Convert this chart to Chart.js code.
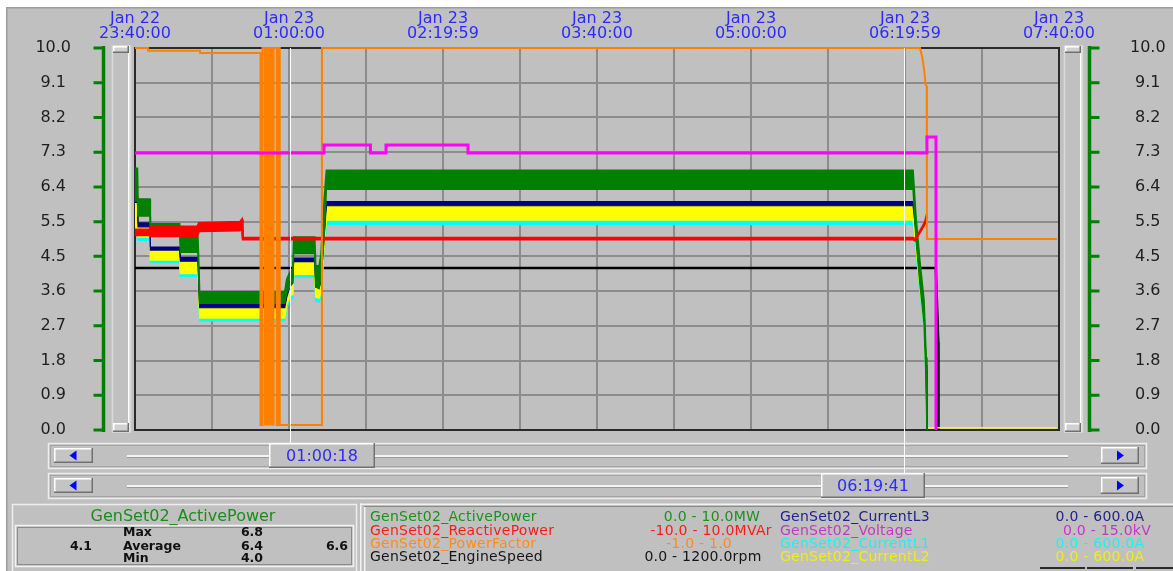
<!DOCTYPE html>
<html>
<head>
<meta charset="utf-8">
<script src="https://cdn.jsdelivr.net/npm/chart.js@4.4.1/dist/chart.umd.min.js"></script>
<style>
  html, body { margin: 0; padding: 0; background: #c0c0c0; }
  #wrap { position: relative; width: 1173px; height: 571px; overflow: hidden; font-family: "DejaVu Sans", sans-serif; }
  #c { position: absolute; left: 0; top: 0; }
  .t { position: absolute; white-space: nowrap; line-height: 1; }
</style>
</head>
<body>
<div id="wrap"><canvas id="c" width="1173" height="571"></canvas></div>
<script>
// ---- time axis (minutes after Jan 22 23:40:00) ----
const timeTickLabels = [
  ['Jan 22', '23:40:00'], ['Jan 23', '01:00:00'], ['Jan 23', '02:19:59'], ['Jan 23', '03:40:00'],
  ['Jan 23', '05:00:00'], ['Jan 23', '06:19:59'], ['Jan 23', '07:40:00']
];
const yTickLabels = ['0.0', '0.9', '1.8', '2.7', '3.6', '4.5', '5.5', '6.4', '7.3', '8.2', '9.1', '10.0'];
const cursorTimes = [80.3, 399.683];
const cursorLabels = ['01:00:18', '06:19:41'];

// ---- generator load & currents (envelope of the sampled trace, scaled 0-10) ----
const stepTime      = [0, 1.3, 1.6, 7.8, 8.0, 23.2, 23.6, 32.7, 33.6, 77.8, 78.8, 80.6, 82.0, 82.4, 93.4, 93.9, 95.6, 96.6, 98.2, 99.4, 404.2, 405.7, 407.8, 409.9, 411.0, 411.4];
const activePowerHigh = [6.85, 6.85, 6.05, 6.05, 5.4, 5.4, 5.05, 5.05, 3.62, 3.62, 3.95, 4.15, 4.2, 5.05, 5.05, 4.3, 4.3, 4.6, 6.0, 6.8, 6.8, 5.6, 4.4, 3.4, 1.9, 0];
const activePowerLow  = [6.0, 6.0, 5.6, 5.6, 5.12, 5.12, 4.65, 4.65, 3.32, 3.32, 3.6, 3.75, 3.9, 4.62, 4.62, 3.75, 3.7, 4.0, 5.0, 6.3, 6.3, 5.0, 3.8, 2.8, 1.3, 0];
const currentL3High = [6.08, 6.08, 5.42, 5.42, 4.79, 4.79, 4.52, 4.52, 3.3, 3.3, 3.58, 3.88, 3.98, 4.5, 4.5, 3.88, 3.84, 3.98, 5.15, 5.98, 5.98, 5.3, 4.1, 3.2, 1.7, 0];
const currentL3Low  = [5.96, 5.96, 5.32, 5.32, 4.71, 4.71, 4.42, 4.42, 3.2, 3.2, 3.47, 3.77, 3.84, 4.41, 4.41, 3.74, 3.72, 3.87, 5.03, 5.87, 5.87, 5.18, 3.98, 3.08, 1.58, 0];
const currentL2High = [6.0, 6.0, 5.37, 5.37, 4.76, 4.76, 4.4, 4.4, 3.22, 3.22, 3.5, 3.87, 3.95, 4.4, 4.4, 3.8, 3.8, 3.95, 5.1, 5.88, 5.88, 5.2, 4.0, 3.1, 1.6, 0];
const currentL2Low  = [5.25, 5.25, 5.05, 5.05, 4.45, 4.45, 4.1, 4.1, 2.93, 2.93, 3.3, 3.5, 3.55, 4.08, 4.08, 3.48, 3.45, 3.6, 4.8, 5.5, 5.5, 4.8, 3.7, 2.8, 1.4, 0];
const currentL1High = [5.35, 5.35, 5.1, 5.1, 4.5, 4.5, 4.15, 4.15, 3.0, 3.0, 3.35, 3.55, 3.6, 4.15, 4.15, 3.55, 3.5, 3.65, 4.85, 5.55, 5.55, 4.85, 3.75, 2.85, 1.45, 0];
const currentL1Low  = [5.15, 5.15, 4.97, 4.97, 4.38, 4.38, 4.02, 4.02, 2.86, 2.86, 3.2, 3.4, 3.45, 4.0, 4.0, 3.38, 3.35, 3.5, 4.7, 5.38, 5.38, 4.7, 3.6, 2.7, 1.3, 0];
const idleTime = [411.4, 479];
const idleCurrentL2 = [0.06, 0.06];

// ---- reactive power ----
const reactiveTime = [0, 7.6, 8.0, 32.4, 33.2, 54.5, 55.6, 56.0, 404.2, 405.2, 406.8, 408.8, 410.4, 411.4];
const reactiveHigh = [5.25, 5.25, 5.33, 5.33, 5.42, 5.45, 5.52, 5.03, 5.03, 5.0, 5.13, 5.3, 5.45, 5.66];
const reactiveLow  = [5.1, 5.1, 5.07, 5.07, 5.2, 5.22, 5.25, 4.99, 4.99, 4.96, 5.09, 5.26, 5.4, 5.6];

// ---- power factor ----
const powerFactorTime  = [0, 6.8, 6.8, 33.8, 33.8, 65.2, 65.2, 66.2, 66.2, 73.6, 73.6, 74.6, 74.6, 75.2, 75.2, 97.1, 97.1, 407.8, 409.0, 409.9, 410.7, 411.3, 411.4, 479];
const powerFactorValue = [10, 10, 9.93, 9.93, 9.87, 9.87, 0.13, 0.13, 10, 10, 0.13, 0.13, 10, 10, 0.13, 0.13, 10, 10, 9.75, 9.45, 9.05, 9.0, 5.0, 5.0];
const powerFactorBurstTime = [66.8, 72.6];
const powerFactorBurstHigh = [10, 10];
const powerFactorBurstLow  = [0.13, 0.13];

// ---- voltage & engine speed ----
const voltageTime  = [0, 98.2, 98.2, 122.3, 122.3, 130.4, 130.4, 173.0, 173.0, 411.4, 411.4, 416.1, 416.1];
const voltageValue = [7.25, 7.25, 7.46, 7.46, 7.25, 7.25, 7.46, 7.46, 7.25, 7.25, 7.67, 7.67, 0];
const engineSpeedTime  = [0, 416.0, 417.3, 417.4];
const engineSpeedValue = [4.24, 4.24, 2.3, 0];

const COLORS = {
  active: '#008000', reactive: '#ff0000', pf: '#ff8000', speed: '#000000',
  l3: '#000080', voltage: '#ff00ff', l1: '#00ffff', l2: '#ffff00'
};

const pts = (t, v) => t.map((x, i) => ({ x, y: v[i] }));

function line(label, t, v, color, width, order) {
  return { label, data: pts(t, v), borderColor: color, backgroundColor: color, borderWidth: width,
           fill: false, order, pointRadius: 0, tension: 0, clip: 4 };
}
function band(label, t, hi, lo, color, width, order) {
  return [
    { label, data: pts(t, hi), borderColor: color, backgroundColor: color, borderWidth: width,
      fill: '+1', order, pointRadius: 0, tension: 0, clip: 4 },
    { label: label + ' (low)', data: pts(t, lo), borderColor: color, backgroundColor: color, borderWidth: width,
      fill: false, order, pointRadius: 0, tension: 0, clip: 4 }
  ];
}

const datasets = [
  line('GenSet02_Voltage', voltageTime, voltageValue, COLORS.voltage, 3, 0),
  line('GenSet02_PowerFactor', powerFactorTime, powerFactorValue, COLORS.pf, 2, 1),
  ...band('GenSet02_PowerFactor burst', powerFactorBurstTime, powerFactorBurstHigh, powerFactorBurstLow, COLORS.pf, 1, 1),
  ...band('GenSet02_ReactivePower', reactiveTime, reactiveHigh, reactiveLow, COLORS.reactive, 2, 2),
  ...band('GenSet02_ActivePower', stepTime, activePowerHigh, activePowerLow, COLORS.active, 1.5, 3),
  ...band('GenSet02_CurrentL3', stepTime, currentL3High, currentL3Low, COLORS.l3, 1.2, 4),
  ...band('GenSet02_CurrentL2', stepTime, currentL2High, currentL2Low, COLORS.l2, 1.5, 5),
  line('GenSet02_CurrentL2 idle', idleTime, idleCurrentL2, COLORS.l2, 1.5, 5),
  ...band('GenSet02_CurrentL1', stepTime, currentL1High, currentL1Low, COLORS.l1, 1.5, 6),
  line('GenSet02_EngineSpeed', engineSpeedTime, engineSpeedValue, COLORS.speed, 2.5, 7)
];

// ---- widget chrome painted around the plot ----
function raised(ctx, x, y, w, h, fill) {
  ctx.fillStyle = fill || '#c4c4c4';
  ctx.fillRect(x, y, w, h);
  ctx.fillStyle = '#ffffff';
  ctx.fillRect(x, y, w, 1.5); ctx.fillRect(x, y, 1.5, h);
  ctx.fillStyle = '#707070';
  ctx.fillRect(x, y + h - 1.5, w, 1.5); ctx.fillRect(x + w - 1.5, y, 1.5, h);
}
function arrowButton(ctx, x, y, w, h, dir) {
  raised(ctx, x, y, w, h);
  const cx = x + w / 2, cy = y + h / 2;
  ctx.fillStyle = '#0000ff';
  ctx.beginPath();
  if (dir < 0) { ctx.moveTo(cx - 4, cy); ctx.lineTo(cx + 3, cy - 5); ctx.lineTo(cx + 3, cy + 5); }
  else { ctx.moveTo(cx + 4, cy); ctx.lineTo(cx - 3, cy - 5); ctx.lineTo(cx - 3, cy + 5); }
  ctx.closePath(); ctx.fill();
}
function hScroller(ctx, y, thumbX, thumbW) {
  ctx.strokeStyle = '#ececec'; ctx.lineWidth = 1.5;
  ctx.strokeRect(48.5, y + 0.5, 1098, 25);
  ctx.strokeStyle = '#a4a4a4'; ctx.lineWidth = 1;
  ctx.strokeRect(50.5, y + 2.5, 1094, 21);
  ctx.fillStyle = '#f4f4f4'; ctx.fillRect(127, y + 12, 941, 2);
  ctx.fillStyle = '#9a9a9a'; ctx.fillRect(127, y + 14, 941, 1);
  arrowButton(ctx, 54, y + 5, 39, 15, -1);
  arrowButton(ctx, 1101, y + 4, 38, 17, 1);
  raised(ctx, thumbX, y, thumbW, 25, '#c0c0c0');
}
function vScroller(ctx, x, top, bottom) {
  ctx.strokeStyle = '#dadada'; ctx.lineWidth = 1.5;
  ctx.strokeRect(x + 0.5, top, 18, bottom - top);
  ctx.fillStyle = '#ffffff'; ctx.fillRect(x + 16, top, 1.5, bottom - top);
  raised(ctx, x + 1, top, 16, 7, '#d0d0d0');
  raised(ctx, x + 1, bottom - 9, 16, 9, '#d0d0d0');
}
function greenAxis(ctx, scale, x, dir) {
  ctx.strokeStyle = '#008000';
  ctx.lineWidth = 3.5;
  ctx.beginPath();
  ctx.moveTo(x, scale.top - 2); ctx.lineTo(x, scale.bottom + 2);
  ctx.stroke();
  ctx.lineWidth = 3;
  ctx.beginPath();
  for (const t of scale.ticks) {
    const py = scale.getPixelForValue(t.value);
    ctx.moveTo(x, py); ctx.lineTo(x + dir * 10, py);
  }
  ctx.stroke();
}

const chrome = {
  id: 'chrome',
  beforeDraw(chart) {
    const ctx = chart.ctx, a = chart.chartArea;
    ctx.save();
    ctx.fillStyle = '#c0c0c0'; ctx.fillRect(0, 0, chart.width, chart.height);
    ctx.fillStyle = '#ffffff'; ctx.fillRect(0, 0, chart.width, 7); ctx.fillRect(0, 0, 6, chart.height);
    ctx.fillStyle = '#9c9c9c'; ctx.fillRect(6, 7, chart.width, 1.5); ctx.fillRect(6, 7, 1.5, chart.height);

    vScroller(ctx, 112, a.top - 2, a.bottom + 2);
    vScroller(ctx, 1064, a.top - 2, a.bottom + 2);
    greenAxis(ctx, chart.scales.y, 103.5, -1);
    greenAxis(ctx, chart.scales.y2, 1089.5, 1);

    hScroller(ctx, 443, 269, 106);
    hScroller(ctx, 473, 821, 104);

    // statistics panel
    ctx.strokeStyle = '#eeeeee'; ctx.lineWidth = 1.5;
    ctx.strokeRect(12.5, 504.5, 344, 70);
    ctx.strokeStyle = '#f2f2f2'; ctx.strokeRect(15.5, 525.5, 338, 41);
    ctx.strokeStyle = '#8a8a8a'; ctx.lineWidth = 1; ctx.strokeRect(17.5, 527.5, 334, 37);
    // legend panel
    ctx.fillStyle = '#f2f2f2';
    ctx.fillRect(360, 503.5, 813, 1.5); ctx.fillRect(360, 503.5, 1.5, 70); ctx.fillRect(364, 507, 1.5, 70);
    ctx.fillStyle = '#8a8a8a'; ctx.fillRect(364, 506, 809, 1);
    ctx.fillStyle = '#2a2a2a';
    ctx.fillRect(1040, 567, 45, 2); ctx.fillRect(1087, 567, 46, 2); ctx.fillRect(1136, 567, 37, 2);
    ctx.restore();
  },
  beforeDatasetsDraw(chart) {
    const ctx = chart.ctx, a = chart.chartArea;
    ctx.save();
    ctx.strokeStyle = '#2a2a2a'; ctx.lineWidth = 2;
    ctx.strokeRect(a.left, a.top, a.right - a.left, a.bottom - a.top);
    ctx.restore();
  },
  afterDraw(chart) {
    const ctx = chart.ctx, a = chart.chartArea, xs = chart.scales.x;
    const ends = [443, 473];
    ctx.save();
    ctx.strokeStyle = '#ffffff'; ctx.lineWidth = 1;
    cursorTimes.forEach((t, i) => {
      const px = Math.round(xs.getPixelForValue(t)) + 0.5;
      ctx.beginPath(); ctx.moveTo(px, a.top); ctx.lineTo(px, ends[i]); ctx.stroke();
    });
    ctx.restore();
  }
};

const tickFont = { family: 'DejaVu Sans', size: 16 };
const yLabelTicks = (s) => { s.ticks = yTickLabels.map((_, i) => ({ value: i * 10 / (yTickLabels.length - 1) })); };
// value axes: fixed width, and no extra vertical padding from the wide label gap
const fixWidth = (w) => (s) => { s.width = w; s.paddingTop = 0; s.paddingBottom = 0; };

new Chart(document.getElementById('c'), {
  type: 'line',
  data: { datasets },
  plugins: [chrome],
  options: {
    responsive: false, animation: false, devicePixelRatio: 1,
    layout: { padding: { left: 0, right: 0, top: 0, bottom: 141 } },
    plugins: { legend: { display: false }, tooltip: { enabled: false } },
    scales: {
      x: {
        type: 'linear', position: 'top', min: 0, max: 480,
        afterFit: (s) => { s.height = 48; s.paddingLeft = 0; s.paddingRight = 0; },
        border: { display: false },
        grid: { color: '#8c8c8c', lineWidth: 2, drawTicks: false },
        ticks: {
          stepSize: 40, autoSkip: false, maxRotation: 0, padding: 6, color: '#2b2bff',
          font: { family: 'DejaVu Sans', size: 16, lineHeight: '15.5px' },
          callback: (v) => (v % 80 === 0 ? timeTickLabels[v / 80] : '')
        }
      },
      y: {
        type: 'linear', position: 'left', min: 0, max: 10,
        afterFit: fixWidth(135),
        afterBuildTicks: yLabelTicks,
        border: { display: false },
        grid: { color: '#8c8c8c', lineWidth: 2, drawTicks: false },
        ticks: { autoSkip: false, padding: 64, crossAlign: 'center', color: '#1e1e1e', font: tickFont,
                 callback: (v, i) => yTickLabels[i] }
      },
      y2: {
        type: 'linear', position: 'right', min: 0, max: 10,
        afterFit: fixWidth(114),
        afterBuildTicks: yLabelTicks,
        border: { display: false },
        grid: { display: false, drawTicks: false },
        ticks: { autoSkip: false, padding: 71, crossAlign: 'center', color: '#1e1e1e', font: tickFont,
                 callback: (v, i) => yTickLabels[i] }
      }
    }
  }
});

// ---- text of the scroll thumbs and the panels ----
const wrap = document.getElementById('wrap');
function addText(str, x, yMid, size, color, align, extra) {
  const d = document.createElement('div');
  d.className = 't';
  d.textContent = str;
  d.style.fontSize = size + 'px';
  d.style.color = color;
  d.style.left = x + 'px';
  d.style.top = (yMid - size * 0.5) + 'px';
  if (align === 'center') d.style.transform = 'translateX(-50%)';
  if (align === 'right') d.style.transform = 'translateX(-100%)';
  if (extra) Object.assign(d.style, extra);
  wrap.appendChild(d);
}
addText(cursorLabels[0], 322, 456, 16, '#2b2bff', 'center');
addText(cursorLabels[1], 873, 486, 16, '#2b2bff', 'center');

addText('GenSet02_ActivePower', 183, 516, 16, '#1b8c1b', 'center');
const bold = { fontWeight: 'bold' };
addText('4.1', 81, 546, 12.5, '#111', 'center', bold);
addText('Max', 123, 532, 12.5, '#111', 'left', bold);
addText('Average', 123, 546, 12.5, '#111', 'left', bold);
addText('Min', 123, 558, 12.5, '#111', 'left', bold);
addText('6.8', 252, 532, 12.5, '#111', 'center', bold);
addText('6.4', 252, 546, 12.5, '#111', 'center', bold);
addText('4.0', 252, 558, 12.5, '#111', 'center', bold);
addText('6.6', 337, 546, 12.5, '#111', 'center', bold);

const legendRows = [
  ['GenSet02_ActivePower', '0.0 - 10.0MW', '#1f8f1f', 712, 'GenSet02_CurrentL3', '0.0 - 600.0A', '#22228a', 1100],
  ['GenSet02_ReactivePower', '-10.0 - 10.0MVAr', '#ff1a1a', 711, 'GenSet02_Voltage', '0.0 - 15.0kV', '#c238c2', 1107],
  ['GenSet02_PowerFactor', '-1.0 - 1.0', '#ff8a1e', 699, 'GenSet02_CurrentL1', '0.0 - 600.0A', '#1ef0f0', 1100],
  ['GenSet02_EngineSpeed', '0.0 - 1200.0rpm', '#161616', 703, 'GenSet02_CurrentL2', '0.0 - 600.0A', '#eeee14', 1100]
];
const rowY = [516, 529.5, 543, 556];
const sp = { letterSpacing: '0.25px' };
legendRows.forEach((r, i) => {
  addText(r[0], 370, rowY[i], 14, r[2], 'left', sp);
  addText(r[1], r[3], rowY[i], 14, r[2], 'center', sp);
  addText(r[4], 780, rowY[i], 14, r[6], 'left', sp);
  addText(r[5], r[7], rowY[i], 14, r[6], 'center', sp);
});
</script>
</body>
</html>
